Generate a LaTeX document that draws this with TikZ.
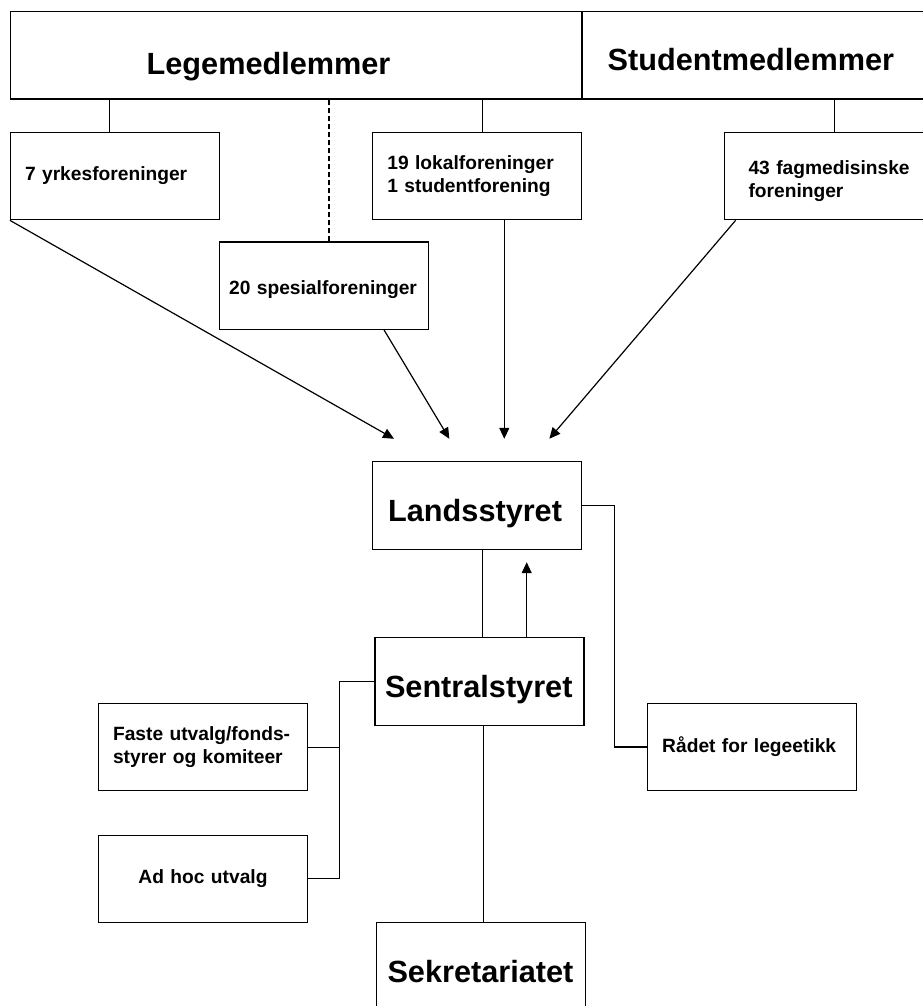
\documentclass[tikz,border=0pt]{standalone}
\usepackage{fontspec}
\setmainfont{Liberation Sans}
\usetikzlibrary{arrows.meta}
\hyphenpenalty=10000

\begin{document}
\begin{tikzpicture}[x=0.75pt, y=-0.75pt, line width=0.9pt,
    box/.style={draw, line width=0.9pt, align=left, minimum height=65.6pt,
      font=\fontsize{14.4pt}{17pt}\selectfont\bfseries},
    unit/.style={inner xsep=10.9pt, text width=134.95pt},
    board/.style={font=\fontsize{23pt}{27pt}\selectfont\bfseries, text height=24pt, text depth=0pt},
    link/.style={-{Triangle[length=8.25pt,width=7.5pt]}}]
  \useasboundingbox (0,0) rectangle (923,1006);
  \clip (0,0) rectangle (923,1006);

  % members
  \node[box, board, inner xsep=102pt, text width=224.5pt, text height=28pt] (leg) at (296.35,55.35) {Legemedlemmer};
  \node[box, board, inner xsep=19.3pt, text width=229.9pt, text height=23pt] (stud) at (761,55.35) {Studentmedlemmer};

  % associations
  \node[box, unit] (yrkes) at (115,176) {7 yrkesforeninger};
  \node[box, unit] (lokal) at (477.35,176) {19 lokalforeninger\\1 studentforening};
  \node[box, inner xsep=18pt, text width=120.75pt, text height=17.7pt] (fag) at (829,176) {43~fagmedisinske\\foreninger};
  \node[box, inner xsep=7.5pt, text width=141.75pt, text height=17pt, text depth=3pt] (spes) at (323.65,285.65) {20 spesialforeninger};

  % boards
  \node[box, board, inner xsep=11.5pt, text width=133.75pt] (lands) at (477.35,505.5) {Landsstyret};
  \node[box, board, inner xsep=7.5pt, text width=141.75pt] (sentral) at (479.5,681.5) {Sentralstyret};
  \node[box, board, inner xsep=8pt, text width=140.75pt] (sekr) at (481.35,966.35) {Sekretariatet};
  \node[box, unit] (faste) at (203,747.15) {Faste utvalg/fonds-\\styrer og komiteer};
  \node[box, unit, align=center] (adhoc) at (203,878.85) {Ad hoc utvalg};
  \node[box, unit] (raadet) at (752.2,747) {Rådet for legeetikk};

  % membership lines
  \coordinate (yk) at ([xshift=-4.3pt]yrkes.north);
  \coordinate (sp) at ([xshift=4pt]spes.north);
  \coordinate (lk) at ([xshift=4pt]lokal.north);
  \coordinate (fg) at ([xshift=4pt]fag.north);
  \draw (yk) -- (yk |- leg.south);
  \draw[dash pattern=on 3.75pt off 2.25pt] (sp) -- (sp |- leg.south);
  \draw (lk) -- (lk |- leg.south);
  \draw (fg) -- (fg |- stud.south);

  % delegates
  \draw[link] (yrkes.south west) -- ([shift={(-62.5pt,16.8pt)}]lands.north);
  \draw[link] ([xshift=45.3pt]spes.south) -- ([shift={(-21pt,16.8pt)}]lands.north);
  \draw[link] ([xshift=20.2pt]lokal.south) -- ([shift={(20.2pt,16.8pt)}]lands.north);
  \draw[link] ([xshift=8.8pt]fag.south west) -- ([shift={(54pt,16.8pt)}]lands.north);

  % governance
  \coordinate (ls) at ([xshift=4pt]lands.south);
  \coordinate (up) at ([xshift=35.4pt]sentral.north);
  \coordinate (ss) at ([xshift=2.9pt]sentral.south);
  \draw (ls) -- (ls |- sentral.north);
  \draw[link, shorten >=9.3pt] (up) -- (up |- lands.south);
  \draw (ss) -- (ss |- sekr.north);
  \draw (lands.east) -- ++(24.2pt,0) |- (raadet.west);
  \draw (sentral.west) -- ++(-26.25pt,0) coordinate (fork) |- (adhoc.east);
  \draw (faste.east) -- (faste.east -| fork);
\end{tikzpicture}
\end{document}
